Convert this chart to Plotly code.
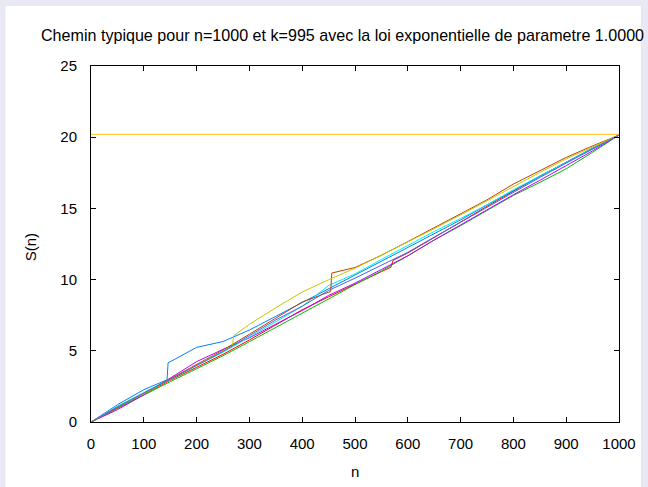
import plotly.graph_objects as go

# ---- data ----
n_std = [0, 50, 100, 150, 200, 250, 300, 350, 400, 450, 500, 550, 600, 650, 700, 750, 800, 850, 900, 950, 1000]

red_n = [0, 50, 100, 150, 200, 250, 300, 350, 400, 450, 500, 550, 568, 572, 600, 650, 700, 750, 800, 850, 900, 950, 1000]
red_s = [0, 1.01, 1.92, 2.93, 3.84, 4.75, 5.76, 6.82, 7.88, 8.79, 9.70, 10.56, 10.87, 11.35, 11.87, 12.93, 14.04, 15.15, 16.21, 17.27, 18.23, 19.19, 20.15]

green_n = n_std
green_s = [0, 0.96, 1.87, 2.83, 3.74, 4.65, 5.64, 6.62, 7.63, 8.64, 9.65, 10.61, 11.67, 12.78, 13.79, 14.85, 15.91, 16.82, 17.78, 18.94, 20.15]

blue_n = [0, 50, 100, 144, 146, 200, 250, 300, 350, 400, 450, 500, 550, 600, 650, 700, 750, 800, 850, 900, 950, 1000]
blue_s = [0, 1.21, 2.27, 2.96, 4.15, 5.24, 5.65, 6.46, 7.42, 8.38, 9.34, 10.30, 11.26, 12.22, 13.23, 14.19, 15.25, 16.26, 17.22, 18.23, 19.24, 20.15]

magenta_n = n_std
magenta_s = [0, 0.86, 1.92, 3.08, 4.24, 5.10, 5.91, 6.87, 7.83, 8.89, 9.75, 10.71, 11.67, 12.78, 13.84, 14.95, 15.96, 16.97, 17.98, 19.04, 20.15]

cyan_n = n_std
cyan_s = [0, 1.11, 2.07, 3.03, 3.94, 4.90, 5.96, 7.07, 8.13, 9.59, 10.40, 11.41, 12.42, 13.38, 14.29, 15.25, 16.31, 17.27, 18.28, 19.24, 20.15]

brown_n = [0, 50, 100, 150, 200, 250, 300, 350, 400, 454, 456, 500, 550, 600, 650, 700, 750, 800, 850, 900, 950, 1000]
brown_s = [0, 1.01, 2.02, 3.03, 3.99, 5.05, 6.16, 7.27, 8.43, 9.17, 10.46, 10.85, 11.71, 12.67, 13.63, 14.59, 15.60, 16.71, 17.62, 18.58, 19.39, 20.15]

yellow_n = [0, 50, 100, 150, 200, 250, 268, 270, 300, 350, 400, 450, 500, 550, 600, 650, 700, 750, 800, 850, 900, 950, 1000]
yellow_s = [0, 1.06, 1.97, 2.98, 3.94, 4.95, 5.36, 6.05, 6.86, 8.02, 9.13, 9.99, 10.80, 11.71, 12.62, 13.58, 14.54, 15.55, 16.56, 17.52, 18.48, 19.34, 20.15]

royal_n = n_std
royal_s = [0, 1.06, 2.02, 2.98, 3.94, 4.95, 6.06, 7.17, 8.13, 9.24, 10.10, 11.01, 11.92, 12.98, 14.04, 15.05, 16.11, 17.17, 18.18, 19.19, 20.15]

level_n = [0, 1000]
level_s = [20.2, 20.2]

x_ticks = [0, 100, 200, 300, 400, 500, 600, 700, 800, 900, 1000]
y_ticks = [0, 5, 10, 15, 20, 25]

series = [
    (red_n, red_s, "#ff0000"),
    (green_n, green_s, "#00c000"),
    (blue_n, blue_s, "#0080ff"),
    (magenta_n, magenta_s, "#c000ff"),
    (cyan_n, cyan_s, "#00eeee"),
    (brown_n, brown_s, "#c04000"),
    (yellow_n, yellow_s, "#c8c800"),
    (royal_n, royal_s, "#4169e1"),
    (level_n, level_s, "#ffc020"),
]

fig = go.Figure()
for xs, ys, col in series:
    fig.add_trace(go.Scatter(x=xs, y=ys, mode="lines",
                             line=dict(color=col, width=1), showlegend=False,
                             hoverinfo="skip"))

W, H = 648, 487
L, R, T, B = 91, 26, 66, 65
pw, ph = W - L - R, H - T - B

def px(xp):
    return (xp - L) / pw

def py(yp):
    return (H - B - yp) / ph

FONT = "Liberation Sans, Arial, sans-serif"

fig.update_layout(
    width=W, height=H,
    margin=dict(l=L, r=R, t=T, b=B, pad=0),
    paper_bgcolor="#e9e9f6",
    plot_bgcolor="#ffffff",
    font=dict(family=FONT, size=15, color="#000000"),
    shapes=[dict(type="rect", xref="paper", yref="paper",
                 x0=px(5), x1=px(644), y0=py(6), y1=py(H + 2),
                 fillcolor="#ffffff", line=dict(width=0), layer="below")],
    annotations=[
        dict(text="Chemin typique pour n=1000 et k=995 avec la loi exponentielle de parametre 1.0000",
             xref="paper", yref="paper", x=px(344), y=py(35), xanchor="center", yanchor="middle",
             showarrow=False, font=dict(family=FONT, size=16.1, color="#000000")),
        dict(text="n", xref="paper", yref="paper", x=px(356), y=py(471),
             xanchor="center", yanchor="middle", showarrow=False,
             font=dict(family=FONT, size=15, color="#000000")),
        dict(text="S(n)", xref="paper", yref="paper", x=px(30), y=py(247),
             xanchor="center", yanchor="middle", showarrow=False, textangle=-90,
             font=dict(family=FONT, size=15, color="#000000")),
    ],
)

axis_common = dict(showgrid=False, zeroline=False, showline=True, linecolor="#000000",
                   linewidth=1, ticks="inside", ticklen=5, tickwidth=1, tickcolor="#000000",
                   mirror="allticks", tickfont=dict(family=FONT, size=15, color="#000000"))

fig.update_xaxes(range=[0, 1000], tickvals=x_ticks, ticktext=[str(v) for v in x_ticks],
                 ticklabelstandoff=8, **axis_common)
fig.update_yaxes(range=[0, 25], tickvals=y_ticks, ticktext=[str(v) for v in y_ticks],
                 ticklabelstandoff=10, **axis_common)

fig.write_html("out.html", config={"displayModeBar": False, "staticPlot": True})

# remove the default page margin so the figure sits at the window's top-left corner
with open("out.html", "r", encoding="utf-8") as f:
    html = f.read()
html = html.replace("<head>", "<head><style>html,body{margin:0;padding:0;overflow:hidden;}</style>", 1)
with open("out.html", "w", encoding="utf-8") as f:
    f.write(html)
